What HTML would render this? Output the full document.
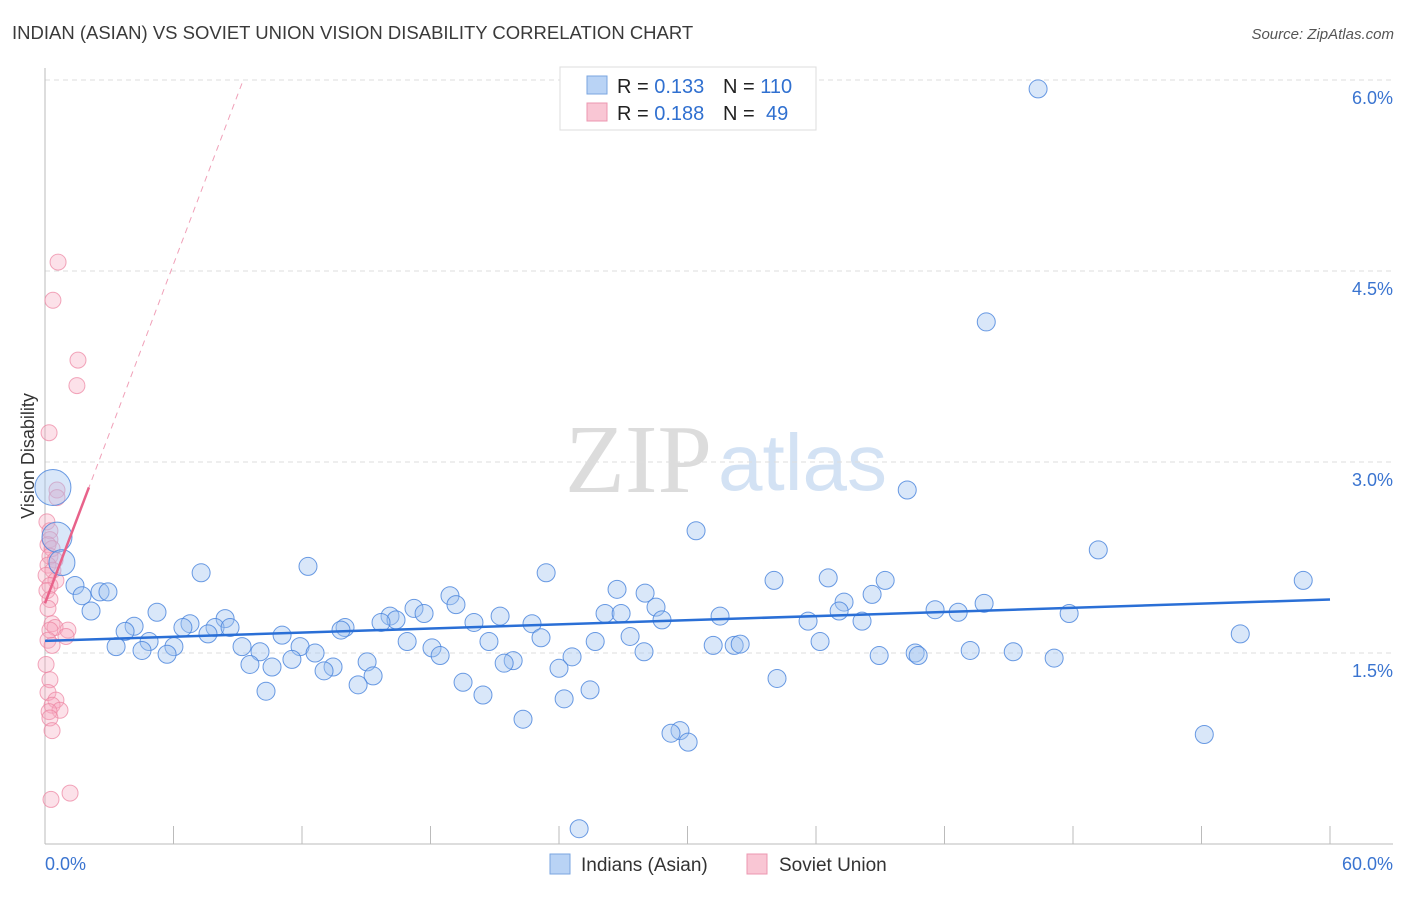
<!DOCTYPE html>
<html><head><meta charset="utf-8"><style>
body{margin:0;background:#fff;font-family:"Liberation Sans",sans-serif;}
svg text{font-family:"Liberation Sans",sans-serif;}
</style></head><body>
<svg id="chart" width="1406" height="892">
<text x="12" y="39" font-size="18.5" fill="#3a3a3a">INDIAN (ASIAN) VS SOVIET UNION VISION DISABILITY CORRELATION CHART</text>
<text x="1394" y="39" font-size="15" fill="#555" font-style="italic" text-anchor="end">Source: ZipAtlas.com</text>
<text x="712" y="492" font-size="98" fill="#dcdcdc" text-anchor="end" style="font-family:'Liberation Serif',serif">ZIP</text>
<text x="718" y="490" font-size="80" fill="#d3e2f4">atlas</text>
<text transform="translate(34,456) rotate(-90)" font-size="18" fill="#333" text-anchor="middle">Vision Disability</text>
<g id="grid"></g><g id="axes"></g><g id="pink"></g><g id="blue"></g><g id="trends"></g>
<g>
<rect x="560" y="67" width="256" height="63" fill="#fff" stroke="#ddd"/>
<rect x="587" y="76" width="20" height="18" fill="#b9d3f5" stroke="#7aa6e0"/>
<rect x="587" y="103" width="20" height="18" fill="#f9c6d4" stroke="#ec97b0"/>
<text y="93" font-size="20"><tspan x="617" fill="#222">R = </tspan><tspan fill="#3070d0">0.133</tspan><tspan x="723" fill="#222">N = </tspan><tspan fill="#3070d0">110</tspan></text>
<text y="120" font-size="20"><tspan x="617" fill="#222">R = </tspan><tspan fill="#3070d0">0.188</tspan><tspan x="723" fill="#222">N = </tspan><tspan x="766" fill="#3070d0">49</tspan></text>
</g>
<g>
<rect x="550" y="854" width="20" height="20" fill="#b9d3f5" stroke="#7aa6e0"/>
<text x="581" y="871" font-size="19" fill="#333">Indians (Asian)</text>
<rect x="747" y="854" width="20" height="20" fill="#f9c6d4" stroke="#ec97b0"/>
<text x="779" y="871" font-size="19" fill="#333">Soviet Union</text>
</g>
</svg>
<script>
const xTickLabels=["0.0%","60.0%"];
const yTicks=[1.5,3.0,4.5,6.0];
const yTickLabels=["1.5%","3.0%","4.5%","6.0%"];
const blueX=[46.37,43.95,40.26,30.40,49.18,12.28,7.29,23.40,34.04,36.57,39.23,58.75,26.71,28.02,38.62,18.91,1.40,1.73,2.57,2.94,2.15,5.23,43.85,37.31,19.19,17.23,17.70,28.53,41.56,42.64,47.82,26.15,26.90,37.08,21.25,16.11,16.39,8.41,6.77,31.52,15.69,20.03,22.74,28.81,35.63,38.15,4.16,3.74,7.94,8.64,6.44,14.01,13.82,7.61,11.07,27.32,23.16,20.73,55.81,16.91,25.69,36.19,4.86,3.32,9.20,11.91,6.02,4.53,18.07,31.20,32.18,32.46,5.70,10.04,12.61,27.97,18.45,40.63,40.77,43.20,45.21,47.12,38.95,24.61,11.53,21.86,21.44,15.04,9.57,13.45,10.60,13.03,24.00,15.32,34.18,19.52,14.62,25.45,10.32,20.45,24.24,22.32,29.65,29.23,30.03,54.13,24.94];
const blueY=[5.93,4.10,2.78,2.46,2.31,2.18,2.13,2.13,2.07,2.09,2.07,2.07,2.00,1.97,1.96,1.95,2.03,1.95,1.98,1.98,1.83,1.82,1.89,1.90,1.88,1.85,1.81,1.86,1.84,1.82,1.81,1.81,1.81,1.83,1.79,1.79,1.76,1.77,1.73,1.79,1.74,1.74,1.73,1.76,1.75,1.75,1.71,1.67,1.70,1.70,1.70,1.70,1.68,1.65,1.64,1.63,1.62,1.59,1.65,1.59,1.59,1.59,1.59,1.55,1.55,1.55,1.55,1.52,1.54,1.56,1.56,1.57,1.49,1.51,1.50,1.51,1.48,1.50,1.48,1.52,1.51,1.46,1.48,1.47,1.45,1.44,1.42,1.43,1.41,1.39,1.39,1.36,1.38,1.32,1.30,1.27,1.25,1.21,1.20,1.17,1.14,0.98,0.89,0.87,0.80,0.86,0.12];
const bigBlueX=[0.37,0.56,0.79];
const bigBlueY=[2.80,2.41,2.21];
const pinkX=[0.61,0.37,1.54,1.49,0.19,0.56,0.56,0.09,0.23,0.23,0.14,0.33,0.23,0.47,0.14,0.37,0.05,0.51,0.23,0.09,0.23,0.14,0.33,0.47,0.23,1.07,0.98,0.14,0.33,0.05,0.23,0.14,0.51,0.33,0.70,0.19,0.23,0.33,1.17,0.28];
const pinkY=[4.57,4.27,3.80,3.60,3.23,2.78,2.72,2.53,2.46,2.39,2.35,2.32,2.26,2.23,2.19,2.15,2.11,2.07,2.03,1.99,1.92,1.85,1.73,1.70,1.68,1.68,1.63,1.60,1.56,1.41,1.29,1.19,1.13,1.09,1.05,1.04,0.99,0.89,0.40,0.35];
const blueTrend=[1.595,1.92];
const pinkTrend=[1.89,0.444];
const NS="http://www.w3.org/2000/svg";
const X0=45,X1=1330,Y0=844,YT=80;
const sx=v=>X0+v/60*(X1-X0);
const sy=v=>Y0-v/6*(Y0-YT);
function mk(p,t,a){const e=document.createElementNS(NS,t);for(const k in a)e.setAttribute(k,a[k]);p.appendChild(e);return e;}
const grid=document.getElementById('grid'),axes=document.getElementById('axes');
yTicks.forEach((v,i)=>{
 const l=mk(grid,'line',{x1:X0,x2:1393,y1:sy(v),y2:sy(v),stroke:'#dedede','stroke-dasharray':'5,4'});
 
 
 const t=mk(grid,'text',{x:1393,y:sy(v)+24,'font-size':18,fill:'#3a74d0','text-anchor':'end'});
 t.textContent=yTickLabels[i];
 
 
});
const ya=mk(axes,'line',{x1:X0,x2:X0,y1:68,y2:Y0,stroke:'#bbb'});


const xa=mk(axes,'line',{x1:X0,x2:1393,y1:Y0,y2:Y0,stroke:'#bbb'});


for(let v=6;v<=60;v+=6){const tk=mk(axes,'line',{x1:sx(v),x2:sx(v),y1:826,y2:Y0,stroke:'#bbb'});
 
 }
[[0,'start',X0],[60,'end',1393]].forEach((d,i)=>{const t=mk(axes,'text',{x:d[2],y:870,'font-size':18,fill:'#3a74d0','text-anchor':d[1]});t.textContent=xTickLabels[i];
 
 });
const pg=document.getElementById('pink');
pinkX.forEach((v,i)=>{const c=mk(pg,'circle',{cx:sx(v),cy:sy(pinkY[i]),r:8,fill:'rgba(246,170,192,0.35)',stroke:'rgba(236,130,160,0.7)'});
 
 });
const bg=document.getElementById('blue');
blueX.forEach((v,i)=>{const c=mk(bg,'circle',{cx:sx(v),cy:sy(blueY[i]),r:9,fill:'rgba(160,195,240,0.4)',stroke:'rgba(70,130,220,0.8)'});
 
 });
[18,15,13].forEach((r,i)=>{const c=mk(bg,'circle',{cx:sx(bigBlueX[i]),cy:sy(bigBlueY[i]),r:r,fill:'rgba(160,195,240,0.4)',stroke:'rgba(70,130,220,0.8)'});
 
 });
const tg=document.getElementById('trends');
const bt=mk(tg,'line',{x1:sx(0),y1:sy(blueTrend[0]),x2:sx(60),y2:sy(blueTrend[1]),stroke:'#2a6fd6','stroke-width':2.5});


const pEnd=(6.0-pinkTrend[0])/pinkTrend[1];
const pd=mk(tg,'line',{x1:sx(0),y1:sy(pinkTrend[0]),x2:sx(pEnd),y2:sy(6.0),stroke:'#f0a0b8','stroke-width':1,'stroke-dasharray':'6,5'});


const ps=mk(tg,'line',{x1:sx(0),y1:sy(pinkTrend[0]),x2:sx(2.05),y2:sy(pinkTrend[0]+pinkTrend[1]*2.05),stroke:'#e8628a','stroke-width':2.5});


</script>
</body></html>
